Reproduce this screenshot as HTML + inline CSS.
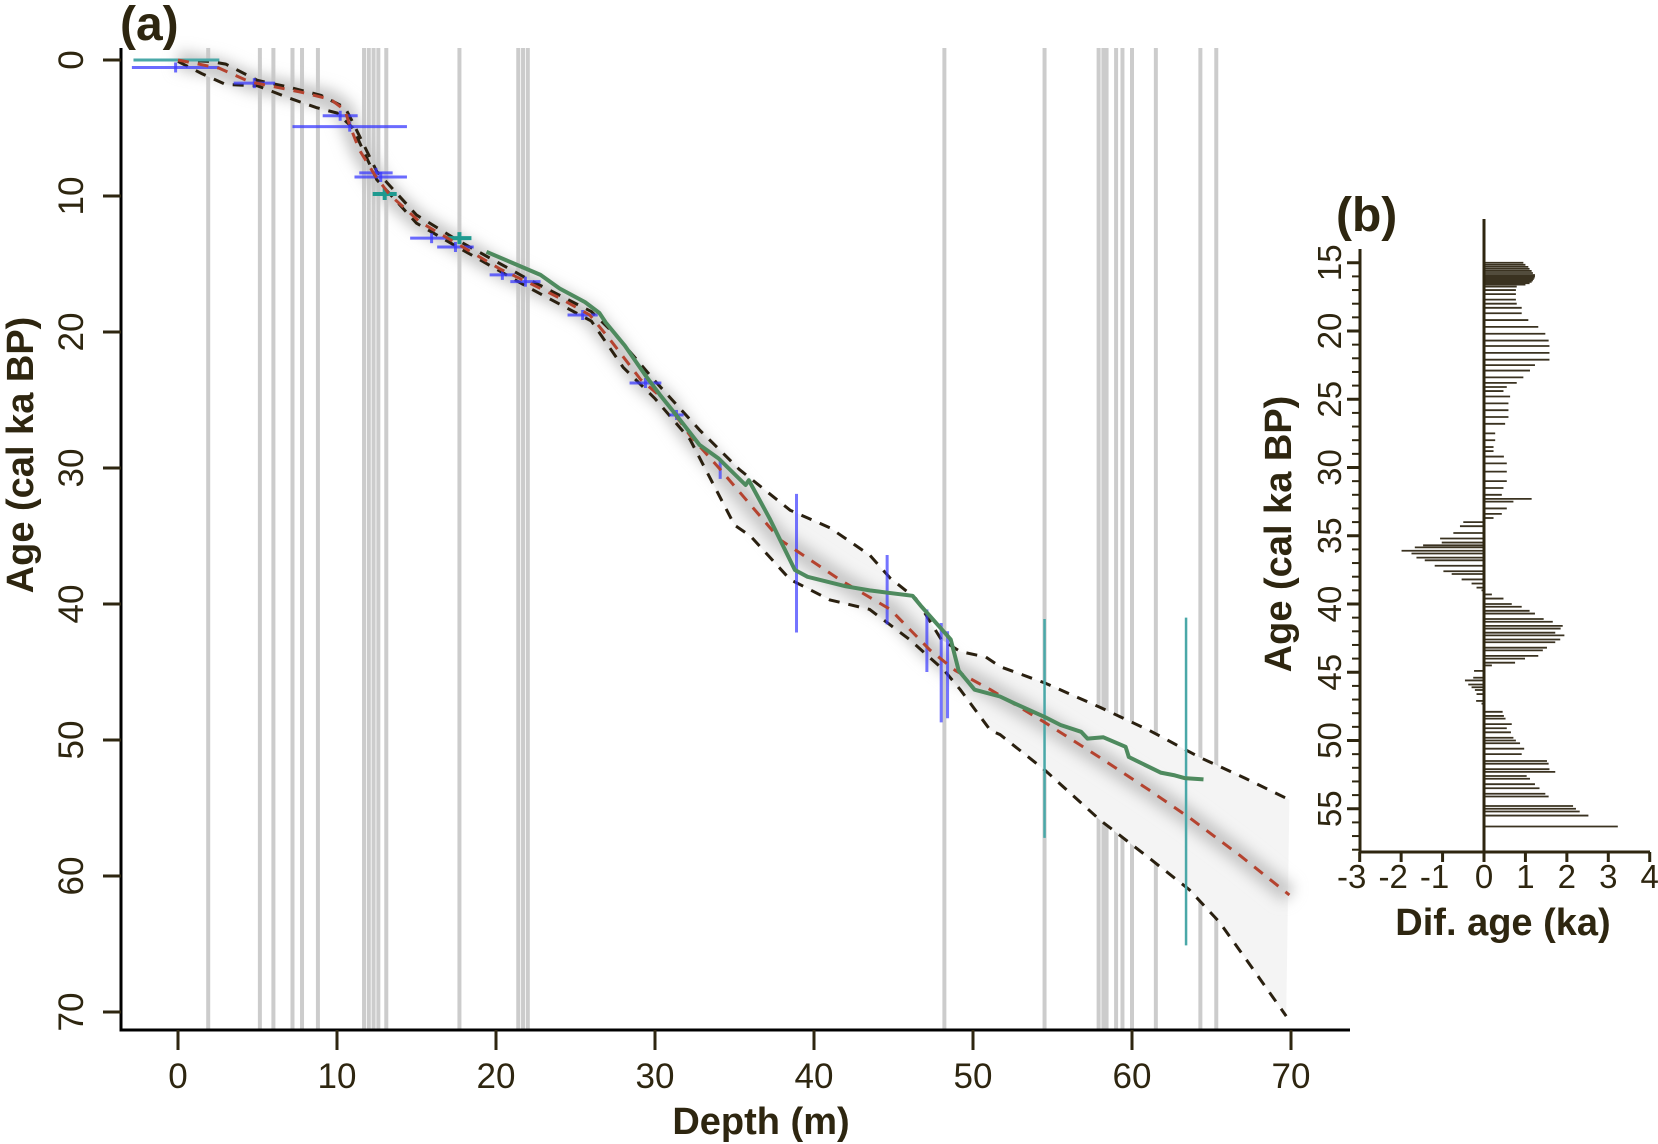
<!DOCTYPE html>
<html><head><meta charset="utf-8"><style>
html,body{margin:0;padding:0;background:#fff;}
svg{display:block;}
text{font-family:"Liberation Sans",sans-serif;fill:#2e2610;}
</style></head><body>
<svg id="chart" width="1658" height="1144" viewBox="0 0 1658 1144" xmlns="http://www.w3.org/2000/svg">
<defs><filter id="blur" x="-20%" y="-20%" width="140%" height="140%"><feGaussianBlur stdDeviation="7"/></filter></defs>
<g id="pa"></g>
<g id="pb"></g>
</svg>
<script>
// ---------- Panel (a) data ----------
const greyDepths = [1.9,5.15,6.0,7.2,7.8,8.8,11.7,12.0,12.3,12.6,13.1,17.7,21.4,21.7,22.0,48.2,54.5,57.9,58.2,58.4,59.0,59.4,60.0,61.5,64.3,65.3];
const medDepth = [0,2.6,4.5,7.7,9.6,10.5,10.8,11.4,12.4,13.3,15.2,17.7,20.3,22.1,24,25.9,27.2,29.1,30.6,32.2,34.1,37.9,41.6,44.8,47.3,48.9,51.1,54.5,58,61.1,63.6,66.8,69.9];
const medAge   = [0,0.6,1.6,2.35,2.9,3.7,4.8,6.6,8.5,9.9,11.9,13.6,15.4,16.4,17.5,18.75,20.6,23.5,25,27.6,30.1,35.3,38.2,40.4,43.4,44.9,46.3,48.7,51.3,53.7,55.7,58.5,61.4];
const upDepth = [0,2,3,5,7,9,10.5,11,12.5,15,17.5,22,26,27.5,30,32.8,35.3,38.5,41,43.5,44.8,46.4,48,49.2,50.8,51.7,54.5,58,61.1,64.3,67.1,69.9];
const upAge   = [0,0.1,0.3,1.5,2.0,2.6,3.5,4.6,8.2,11.4,13.2,16.1,18.5,20.2,23.6,27.2,30.1,33.1,34.4,36.4,38.1,39.6,42.6,43.5,43.9,44.6,45.8,47.6,49.3,51.3,52.8,54.4];
const loDepth = [0,1.5,3,5,7,8.7,10,11,12.5,15,17.5,22,26,28,30,32.2,35,36,38.5,41,43.5,46,48.2,49.2,51.1,51.7,54.5,58,61.1,63.6,65.5,67.4,69.7];
const loAge   = [0.1,1.0,1.8,1.9,2.8,3.5,3.9,5.0,8.8,12.0,13.7,16.7,19.2,22.6,24.9,27.9,34.2,35,38.2,39.7,40.4,42.6,44.9,46.3,49.3,49.6,52.2,55.9,58.7,61,63.4,66.5,70.3];
const grDepth = [19.4,20.9,22.8,24,25.6,26.5,26.9,28.1,29.4,30.3,31.6,32.8,34.0,35.7,35.9,37.2,38.8,39.6,42,43.5,46.2,46.7,48.6,49.1,50.1,51.7,52.6,54.5,55.5,56.8,57.2,58.2,59.6,59.8,61.8,62.7,63.3,64.5];
const grAge   = [14.1,14.85,15.8,16.8,17.8,18.6,19.3,21,23.2,24.6,26.5,28.3,29.3,31.25,30.9,33.7,37.5,38,38.7,39,39.4,40.1,42.6,44.9,46.3,46.8,47.3,48.3,48.9,49.4,49.9,49.8,50.5,51.25,52.4,52.6,52.8,52.9];
// horizontal (depth-range) error bars
const hAge  = [0.55,1.7,4.1,4.9,8.3,8.6,13.1,13.75,15.8,16.3,18.75,23.75,26.1];
const hMin  = [-2.9,3.5,9.1,7.2,11.4,11.1,14.6,16.3,19.6,20.9,24.5,28.4,30.9];
const hMax  = [2.6,6.1,11.3,14.4,13.5,14.4,17.3,18.6,21.2,22.8,26.4,30.4,31.8];
// vertical (age-range) error bars, blue
const vDepth = [34.1,38.9,44.6,47.1,48.0,48.4];
const vMin   = [29.3,31.9,36.4,40.4,41.4,42.0];
const vMax   = [30.8,42.1,41.5,45.0,48.7,48.4];
// teal dates
const tDepth = [54.5,63.4];
const tMin   = [41.1,41.0];
const tMax   = [57.2,65.1];
const tTopAge = [0];
const tTopMin = [-2.8];
const tTopMax = [2.6];
const tStarDepth = [13.0,17.7];
const tStarAge = [9.85,13.1];
const xTicks = [0,10,20,30,40,50,60,70];
const yTicks = [0,10,20,30,40,50,60,70];

// ---------- Panel (b) data ----------
const difAge = [15.0,15.15,15.3,15.45,15.6,15.75,15.9,16.0,16.1,16.2,16.3,16.4,16.5,16.6,16.75,17.0,17.3,17.7,18.0,18.3,18.7,19.2,19.7,20.2,20.7,21.1,21.6,22.1,22.5,22.9,23.4,23.8,24.1,24.4,24.8,25.3,25.8,26.3,26.8,27.5,28.0,28.5,28.8,29.2,29.7,30.3,31.0,31.5,32.0,32.3,32.5,33.0,33.4,33.7,34.0,34.3,34.8,35.2,35.5,35.7,35.85,36.1,36.3,36.6,36.8,37.2,37.6,37.8,38.2,38.5,38.8,39.0,39.3,39.6,40.0,40.2,40.5,40.7,41.1,41.3,41.6,41.8,42.1,42.3,42.6,42.8,43.2,43.4,43.8,44.0,44.3,44.5,44.9,45.4,45.6,45.9,46.1,46.3,46.6,47.1,47.3,47.9,48.2,48.4,48.8,49.1,49.4,49.8,50.0,50.2,50.6,51.0,51.5,51.7,52.1,52.3,52.6,52.8,53.2,53.5,53.9,54.1,54.8,55.0,55.2,55.5,56.3];
const difVal = [0.95,1.0,1.07,1.1,1.15,1.18,1.23,1.23,1.22,1.2,1.18,1.15,1.1,1.0,0.79,0.77,0.77,0.77,0.79,0.91,0.91,1.07,1.31,1.48,1.56,1.58,1.58,1.58,1.23,1.11,0.95,0.79,0.55,0.47,0.63,0.59,0.59,0.59,0.51,0.27,0.27,0.23,0.23,0.48,0.55,0.55,0.55,0.47,0.43,1.15,0.71,0.55,0.43,0.23,-0.5,-0.58,-0.74,-1.06,-1.02,-1.47,-1.67,-1.99,-1.75,-1.63,-1.43,-1.19,-0.98,-0.78,-0.54,-0.3,-0.18,-0.06,0.19,0.47,0.67,0.91,1.1,1.23,1.44,1.66,1.9,1.85,1.72,1.94,1.84,1.72,1.52,1.42,1.31,0.99,0.75,0.19,-0.24,-0.26,-0.46,-0.38,-0.3,-0.22,-0.18,-0.19,-0.06,0.45,0.48,0.52,0.67,0.55,0.65,0.71,0.77,0.87,0.97,0.91,1.52,1.56,1.58,1.72,1.03,1.11,1.23,1.34,1.48,1.56,2.15,2.22,2.31,2.52,3.23];
const bxTicks = [-3,-2,-1,0,1,2,3,4];
const byTicks = [15,20,25,30,35,40,45,50,55];

const NS = "http://www.w3.org/2000/svg";
const X = d => 178 + 15.9 * d;
const Y = a => 60 + 13.6 * a;
const BX = v => 1484 + 41.43 * v;
const BY = a => 58 + 13.65 * a;
function mk(parent, tag, attrs, txt) {
  const e = document.createElementNS(NS, tag);
  for (const k in attrs) e.setAttribute(k, attrs[k]);
  if (txt !== undefined) e.textContent = txt;
  parent.appendChild(e);
  return e;
}
function pts(xs, ys, fx, fy) { return xs.map((x, i) => fx(x).toFixed(1) + "," + fy(ys[i]).toFixed(1)).join(" "); }

const pa = document.getElementById("pa");
greyDepths.forEach(d => {
  const l = mk(pa, "line", {x1: X(d), x2: X(d), y1: 48, y2: 1030, stroke: "#cccccc", "stroke-width": 4});
  
  
});
const polyStr = pts(upDepth, upAge, X, Y) + " " + pts(loDepth.slice().reverse(), loAge.slice().reverse(), X, Y);
const band = mk(pa, "polygon", {points: polyStr, fill: "#f4f4f4"});


const glow = mk(pa, "polyline", {points: pts(medDepth, medAge, X, Y), fill: "none", stroke: "#c4c4c4", "stroke-width": 18, filter: "url(#blur)"});


[[upDepth, upAge, 'upper-bound-line'], [loDepth, loAge, 'lower-bound-line']].forEach(s => {
  const p = mk(pa, "polyline", {points: pts(s[0], s[1], X, Y), fill: "none", stroke: "#2a2010", "stroke-width": 3, "stroke-dasharray": "11 9"});
  
  
});
hAge.forEach((a, i) => {
  const l = mk(pa, "line", {x1: X(hMin[i]), x2: X(hMax[i]), y1: Y(a), y2: Y(a), stroke: "#3a3aff", "stroke-width": 3, opacity: 0.75});
  
  
  const c = (hMin[i] + hMax[i]) / 2;
  const v = mk(pa, "line", {x1: X(c), x2: X(c), y1: Y(a) - 5, y2: Y(a) + 5, stroke: "#3a3aff", "stroke-width": 3, opacity: 0.75});
  
  
});
vDepth.forEach((d, i) => {
  const l = mk(pa, "line", {x1: X(d), x2: X(d), y1: Y(vMin[i]), y2: Y(vMax[i]), stroke: "#3a3aff", "stroke-width": 3, opacity: 0.7});
  
  
});
tDepth.forEach((d, i) => {
  const l = mk(pa, "line", {x1: X(d), x2: X(d), y1: Y(tMin[i]), y2: Y(tMax[i]), stroke: "#4aa8a8", "stroke-width": 2.5});
  
  
});
tTopAge.forEach((a, i) => {
  const l = mk(pa, "line", {x1: X(tTopMin[i]), x2: X(tTopMax[i]), y1: Y(a), y2: Y(a), stroke: "#4aa8a8", "stroke-width": 3});
  
  
});
tStarDepth.forEach((d, i) => {
  const a = tStarAge[i];
  const g = mk(pa, "path", {d: `M${X(d)-12},${Y(a)} L${X(d)+12},${Y(a)} M${X(d)},${Y(a)-6} L${X(d)},${Y(a)+6}`, stroke: "#1f9a90", "stroke-width": 4, fill: "none"});
  
  
});
const med = mk(pa, "polyline", {points: pts(medDepth, medAge, X, Y), fill: "none", stroke: "#b5432f", "stroke-width": 3, "stroke-dasharray": "11 9"});


const gr = mk(pa, "polyline", {points: pts(grDepth, grAge, X, Y), fill: "none", stroke: "#4e8a5e", "stroke-width": 4, "stroke-linejoin": "round"});


const ax = mk(pa, "path", {d: "M121,48 L121,1030 L1350,1030", fill: "none", stroke: "#000", "stroke-width": 3});


xTicks.forEach(t => {
  const tk = mk(pa, "line", {x1: X(t), x2: X(t), y1: 1030, y2: 1050, stroke: "#2e2610", "stroke-width": 3});
  
  
  const lb = mk(pa, "text", {x: X(t), y: 1088, "font-size": 35, "text-anchor": "middle"}, String(t));
  
  
});
yTicks.forEach(t => {
  const tk = mk(pa, "line", {x1: 103, x2: 121, y1: Y(t), y2: Y(t), stroke: "#2e2610", "stroke-width": 3});
  
  
  const lb = mk(pa, "text", {x: 0, y: 0, "font-size": 35, "text-anchor": "middle", transform: `translate(83,${Y(t)}) rotate(-90)`}, String(t));
  
  
});
let t1 = mk(pa, "text", {x: 761, y: 1134, "font-size": 38, "font-weight": "bold", "text-anchor": "middle"}, "Depth (m)");
 
let t2 = mk(pa, "text", {x: 0, y: 0, "font-size": 38, "font-weight": "bold", "text-anchor": "middle", transform: "translate(33,455) rotate(-90)"}, "Age (cal ka BP)");
 
let t3 = mk(pa, "text", {x: 120, y: 40, "font-size": 48, "font-weight": "bold"}, "(a)");
 

// ---------- Panel (b) ----------
const pb = document.getElementById("pb");
difAge.forEach((a, i) => {
  const l = mk(pb, "line", {x1: BX(0), x2: BX(difVal[i]), y1: BY(a), y2: BY(a), stroke: "#3a3220", "stroke-width": 1.8});
  
  
});
const zl = mk(pb, "line", {x1: BX(0), x2: BX(0), y1: 219, y2: 852, stroke: "#2e2610", "stroke-width": 3});
 
const bax = mk(pb, "path", {d: "M1360,249 L1360,852 L1650,852", fill: "none", stroke: "#2e2610", "stroke-width": 3});
 
for (let a = 15; a <= 58; a++) {
  const major = a % 5 === 0;
  const tk = mk(pb, "line", {x1: major ? 1347 : 1352, x2: 1360, y1: BY(a), y2: BY(a), stroke: "#2e2610", "stroke-width": major ? 3 : 2});
  
  
}
byTicks.forEach(t => {
  const lb = mk(pb, "text", {x: 0, y: 0, "font-size": 33, "text-anchor": "middle", transform: `translate(1341,${BY(t)}) rotate(-90)`}, String(t));
  
  
});
bxTicks.forEach(t => {
  const tk = mk(pb, "line", {x1: BX(t), x2: BX(t), y1: 852, y2: 862, stroke: "#2e2610", "stroke-width": 3});
  
  
  const lb = mk(pb, "text", {x: BX(t) - (t < 0 ? 8 : 0), y: 888, "font-size": 33, "text-anchor": "middle"}, String(t));
  
  
});
let t4 = mk(pb, "text", {x: 1503, y: 935, "font-size": 38, "font-weight": "bold", "text-anchor": "middle"}, "Dif. age (ka)");
 
let t5 = mk(pb, "text", {x: 0, y: 0, "font-size": 38, "font-weight": "bold", "text-anchor": "middle", transform: "translate(1291,534) rotate(-90)"}, "Age (cal ka BP)");
 
let t6 = mk(pb, "text", {x: 1336, y: 231, "font-size": 48, "font-weight": "bold"}, "(b)");
 
</script>
</body></html>
